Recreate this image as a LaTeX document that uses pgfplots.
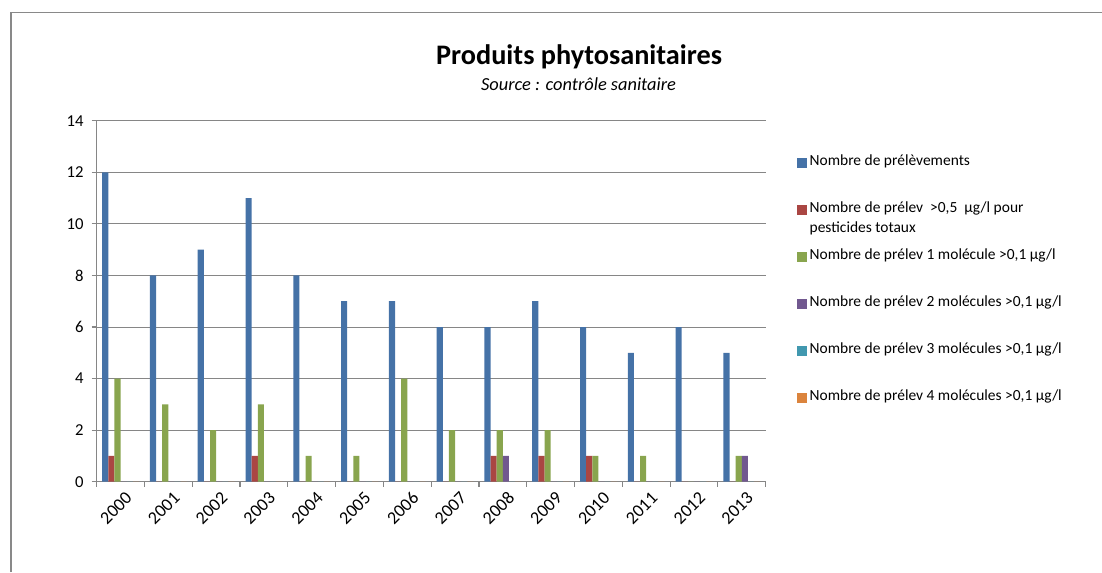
\documentclass[border=0pt]{standalone}
\usepackage{fontspec}
\setmainfont{Carlito}
\usepackage{pgfplots}
\pgfplotsset{compat=1.18}
\definecolor{cblue}{HTML}{4572A7}
\definecolor{cred}{HTML}{AA4643}
\definecolor{cgreen}{HTML}{89A54E}
\definecolor{cpurple}{HTML}{71588F}
\definecolor{cteal}{HTML}{4198AF}
\definecolor{corange}{HTML}{DB843D}
\definecolor{gridgray}{HTML}{868686}
\definecolor{framegray}{HTML}{898989}
\begin{document}
\begin{tikzpicture}
\path[use as bounding box] (0,0) rectangle (826.5pt,-429pt);
\draw[color=framegray, line width=0.9pt] (8.25pt,-429pt) -- (8.25pt,-9.4pt) -- (826.5pt,-9.4pt);
\node[font=\fontsize{21.2}{25}\selectfont\bfseries, anchor=base, inner sep=0pt] at (434.3pt,-48.5pt) {Produits phytosanitaires};
\node[font=\fontsize{13.8}{16}\selectfont\itshape, anchor=base, inner sep=0pt] at (433.9pt,-68pt) {Source : contrôle sanitaire};
\begin{axis}[
  at={(72.5pt,-361.3pt)}, anchor=south west,
  scale only axis, width=501.75pt, height=270.75pt,
  ybar=0pt, bar width=4.6pt,
  xmin=-0.5, xmax=13.5, ymin=0, ymax=14,
  axis x line*=bottom, axis y line*=left,
  axis line style={color=gridgray, line width=1pt},
  tick align=outside,
  major tick length=3.75pt,
  tick style={color=gridgray, line width=0.9pt},
  xtick={-0.5,0.5,...,13.5},
  xticklabels={},
  extra x ticks={0,1,...,13},
  extra x tick labels={2000,2001,2002,2003,2004,2005,2006,2007,2008,2009,2010,2011,2012,2013},
  extra x tick style={major tick length=0pt, grid=none},
  xticklabel style={rotate=45, anchor=east, inner sep=0pt, yshift=-11.5pt, xshift=-2.5pt, font=\fontsize{13.5}{15}\selectfont},
  ytick={0,2,...,14},
  yticklabel style={font=\fontsize{12.5}{15}\selectfont, xshift=-2.5pt},
  /pgf/number format/assume math mode=true,
  ymajorgrids,
  grid style={color=gridgray, line width=0.75pt},
  legend image code/.code={\fill[#1,draw=none] (0pt,-3.75pt) rectangle (7.5pt,3.75pt);},
  legend cell align=left,
  legend style={at={(1.0468,0.9042)}, anchor=north west, draw=none, fill=none,
    inner sep=0pt, outer sep=0pt, row sep=24.25pt, column sep=2pt,
    font=\fontsize{11.6}{14}\selectfont,
    nodes={inner sep=0pt, text height=8pt, text depth=3pt}},
]
\addplot[fill=cblue, draw=none] coordinates {(0,12) (1,8) (2,9) (3,11) (4,8) (5,7) (6,7) (7,6) (8,6) (9,7) (10,6) (11,5) (12,6) (13,5)};
\addplot[fill=cred, draw=none] coordinates {(0,1) (1,0) (2,0) (3,1) (4,0) (5,0) (6,0) (7,0) (8,1) (9,1) (10,1) (11,0) (12,0) (13,0)};
\addplot[fill=cgreen, draw=none] coordinates {(0,4) (1,3) (2,2) (3,3) (4,1) (5,1) (6,4) (7,2) (8,2) (9,2) (10,1) (11,1) (12,0) (13,1)};
\addplot[fill=cpurple, draw=none] coordinates {(0,0) (1,0) (2,0) (3,0) (4,0) (5,0) (6,0) (7,0) (8,1) (9,0) (10,0) (11,0) (12,0) (13,1)};
\addplot[fill=cteal, draw=none] coordinates {(0,0) (1,0) (2,0) (3,0) (4,0) (5,0) (6,0) (7,0) (8,0) (9,0) (10,0) (11,0) (12,0) (13,0)};
\addplot[fill=corange, draw=none] coordinates {(0,0) (1,0) (2,0) (3,0) (4,0) (5,0) (6,0) (7,0) (8,0) (9,0) (10,0) (11,0) (12,0) (13,0)};
\addlegendentry{Nombre de prélèvements}
\addlegendentry{\begin{tabular}[t]{@{}l@{}}Nombre de prélev \ >0,5 \ µg/l pour\\[1pt]pesticides totaux\end{tabular}}
\addlegendentry{Nombre de prélev 1 molécule >0,1 µg/l}
\addlegendentry{Nombre de prélev 2 molécules >0,1 µg/l}
\addlegendentry{Nombre de prélev 3 molécules >0,1 µg/l}
\addlegendentry{Nombre de prélev 4 molécules >0,1 µg/l}
\end{axis}
\end{tikzpicture}
\end{document}
